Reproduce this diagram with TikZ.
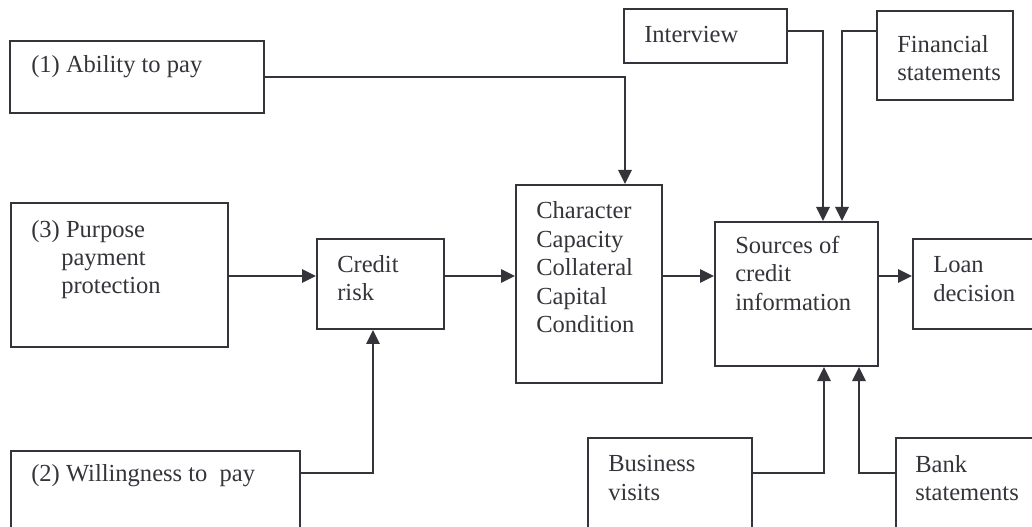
\documentclass[tikz,border=0pt]{standalone}
\usepackage{fontspec}
\setmainfont{Liberation Serif}
\usetikzlibrary{arrows.meta,fit}
\definecolor{ink}{RGB}{52,52,58}
\tikzset{
  box/.style={draw=ink, line width=1.5pt, inner sep=0pt, fill=none},
  txt/.style={text=ink, inner sep=0pt, align=left, anchor=base west,
    font=\fontsize{18.4pt}{21.2pt}\selectfont},
  arr/.style={draw=ink, line width=1.5pt, -{Triangle[length=10.5pt,width=10pt]}},
  lin/.style={draw=ink, line width=1.5pt}
}
\begin{document}
\begin{tikzpicture}[x=0.75pt,y=-0.75pt]
\useasboundingbox (0,0) rectangle (1032,527);
\fill[white] (0,0) rectangle (1032,527);
\clip (0,0) rectangle (1032,527);
% boxes
\node[box, fit={(10,41) (264,113)}] (ab) {};
\node[box, fit={(11,203) (228,347)}] (pp) {};
\node[box, fit={(11,451) (300,570)}] (wp) {};
\node[box, fit={(317,239) (444,329)}] (cr) {};
\node[box, fit={(516,185) (662,383)}] (ch) {};
\node[box, fit={(715,222) (878,366)}] (sc) {};
\node[box, fit={(913,239) (1070,329)}] (ld) {};
\node[box, fit={(624,9) (787,63)}] (iv) {};
\node[box, fit={(877,11) (1013,100)}] (fs) {};
\node[box, fit={(588,438) (752,570)}] (bv) {};
\node[box, fit={(896,438) (1070,570)}] (bk) {};
% texts
\node[txt] (tab) at (31,73) {(1) Ability to pay};
\node[txt] (tpp1) at (31,238) {(3) Purpose};
\node[txt] (tpp2) at (61,266) {payment};
\node[txt] (tpp3) at (61,294) {protection};
\node[txt] (twp) at (31,481) {(2) Willingness to\ \ pay};
\node[txt] (tcr1) at (337,273) {Credit};
\node[txt] (tcr2) at (337,301) {risk};
\node[txt] (tch1) at (536,219) {Character};
\node[txt] (tch2) at (536,247.5) {Capacity};
\node[txt] (tch3) at (536,276) {Collateral};
\node[txt] (tch4) at (536,304.5) {Capital};
\node[txt] (tch5) at (536,333) {Condition};
\node[txt] (tsc1) at (735,254) {Sources of};
\node[txt] (tsc2) at (735,282) {credit};
\node[txt] (tsc3) at (735,310.5) {information};
\node[txt] (tld1) at (933,273) {Loan};
\node[txt] (tld2) at (933,301.5) {decision};
\node[txt] (tiv) at (644,43) {Interview};
\node[txt] (tfs1) at (897,53) {Financial};
\node[txt] (tfs2) at (897,80.5) {statements};
\node[txt] (tbv1) at (608,471) {Business};
\node[txt] (tbv2) at (608,500) {visits};
\node[txt] (tbk1) at (915,472) {Bank};
\node[txt] (tbk2) at (915,500) {statements};
% routing coordinates
\coordinate (row) at (0,276);
\coordinate (a1) at (625,77);
\coordinate (w1) at (373,473);
\coordinate (i1) at (823,31);
\coordinate (f1) at (842,31);
\coordinate (b1) at (824,473);
\coordinate (k1) at (859,473);
% connectors
\draw[arr] (ab.east |- a1) -- (a1) -- (ch.north -| a1);
\draw[arr] (pp.east |- row) -- (cr.west |- row);
\draw[arr] (wp.east |- w1) -- (w1) -- (cr.south -| w1);
\draw[arr] (cr.east |- row) -- (ch.west |- row);
\draw[arr] (ch.east |- row) -- (sc.west |- row);
\draw[arr] (sc.east |- row) -- (ld.west |- row);
\draw[arr] (iv.east |- i1) -- (i1) -- (sc.north -| i1);
\draw[arr] (fs.west |- f1) -- (f1) -- (sc.north -| f1);
\draw[arr] (bv.east |- b1) -- (b1) -- (sc.south -| b1);
\draw[arr] (bk.west |- k1) -- (k1) -- (sc.south -| k1);
\end{tikzpicture}
\end{document}
